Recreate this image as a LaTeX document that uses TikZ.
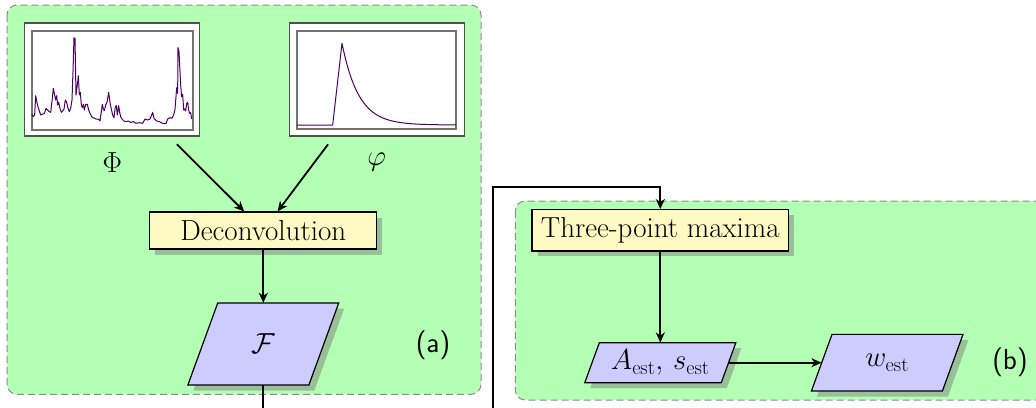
\RequirePackage{fix-cm}
\documentclass[tikz,border=0pt]{standalone}
\usetikzlibrary{arrows.meta,shadows,calc}
\definecolor{panelgreen}{RGB}{179,255,179}
\definecolor{boxyellow}{RGB}{255,250,196}
\definecolor{parablue}{RGB}{204,204,255}
\definecolor{curvecol}{RGB}{75,0,100}
\definecolor{framecol}{RGB}{80,80,80}
\definecolor{plotcol}{RGB}{115,115,115}
\definecolor{dashcol}{RGB}{140,140,140}
% name, x, y, width, height, text
\newcommand{\paranode}[6]{%
  \filldraw[parafill] ({#2-#4/2+0.182*#5},{#3-#5/2}) -- ({#2+#4/2+0.182*#5},{#3-#5/2})
     -- ({#2+#4/2-0.182*#5},{#3+#5/2}) -- ({#2-#4/2-0.182*#5},{#3+#5/2}) -- cycle;
  \node[paratext, minimum width=#4pt, minimum height=#5pt] (#1) at (#2,#3) {#6};}
\begin{document}
\begin{tikzpicture}[x=1pt,y=-1pt, font=\fontsize{29}{35}\selectfont,
  panel/.style={fill=panelgreen, draw=dashcol, dash pattern=on 7pt off 4pt, line width=1pt, rounded corners=10pt},
  procbox/.style={rectangle, draw=black, line width=1.2pt, fill=boxyellow,
     drop shadow={shadow xshift=5.5pt, shadow yshift=-5.5pt}, inner sep=0pt},
  parafill/.style={draw=black, line width=1.2pt, fill=parablue, line join=miter,
     drop shadow={shadow xshift=5.5pt, shadow yshift=-5.5pt}},
  paratext/.style={rectangle, inner sep=0pt},
  imgframe/.style={rectangle, draw=framecol, line width=1.6pt, fill=white,
     minimum width=175pt, minimum height=113pt, outer sep=8.6pt, inner sep=0pt},
  plotframe/.style={draw=plotcol, line width=1.8pt},
  curvestyle/.style={draw=curvecol, line width=1pt, line join=round},
  arr/.style={-{Stealth[length=10pt,width=9pt,inset=3pt]}, line width=1.8pt},
  sublabel/.style={font=\fontsize{29}{35}\selectfont\sffamily}]
\useasboundingbox (0,0) rectangle (1036,407);
% panels
\path[panel] (7,5) rectangle (481,394.3);
\path[panel] (515.3,201) rectangle (1080,400);
% image frames
\node[imgframe] (imPhi) at (111.8,79.2) {};
\node[imgframe] (imphi) at (376.8,79.2) {};
\draw[plotframe] (31.7,30.7) rectangle (192.7,130);
\draw[plotframe] (296.7,30.7) rectangle (456,129.3);
% Phi curve
\begin{scope}[shift={(20,15)}, scale=1/3]
\draw[curvestyle] (35,298) -- (40,305) -- (44,300) -- (47,242) -- (52,268) -- (57,285) -- (62,300) -- (68,297) -- (73,296) -- (78,280) -- (83,285) -- (88,290) -- (92,292) -- (97,250) -- (100,220) -- (104,240) -- (107,255) -- (110,242) -- (113,270) -- (116,262) -- (120,280) -- (124,292) -- (128,288) -- (132,282) -- (136,255) -- (140,262) -- (144,280) -- (148,290) -- (152,280) -- (156,255) -- (159,170) -- (162,68) -- (164,92) -- (165,70) -- (168,240) -- (172,210) -- (175,182) -- (178,240) -- (181,232) -- (184,270) -- (187,278) -- (190,268) -- (193,285) -- (197,268) -- (202,268) -- (206,285) -- (210,295) -- (215,305) -- (220,308) -- (228,312) -- (236,313) -- (240,318) -- (244,290) -- (247,268) -- (250,282) -- (253,287) -- (257,270) -- (261,262) -- (266,232) -- (270,262) -- (274,282) -- (278,300) -- (282,308) -- (286,275) -- (289,272) -- (292,300) -- (296,272) -- (299,292) -- (302,305) -- (306,312) -- (312,318) -- (318,320) -- (325,318) -- (332,322) -- (340,320) -- (348,325) -- (358,323) -- (368,325) -- (375,312) -- (382,315) -- (390,312) -- (395,300) -- (398,292) -- (402,310) -- (410,318) -- (418,320) -- (428,325) -- (438,326) -- (443,312) -- (450,308) -- (456,310) -- (461,300) -- (465,283) -- (468,245) -- (470,218) -- (473,235) -- (474,98) -- (477,110) -- (479,150) -- (482,210) -- (485,245) -- (488,238) -- (491,285) -- (494,282) -- (497,288) -- (500,265) -- (503,262) -- (506,285) -- (509,295) -- (512,293) -- (515,312);
\end{scope}
% phi curve
\begin{scope}[shift={(280,15)}, scale=1/3]
\draw[curvestyle] (50,330) -- (158,330) -- (186,85) -- plot[domain=186:528, samples=80] (\x,{330-245*exp(-(\x-186)/50)});
\end{scope}
% labels
\node (lPhi) at (112.3,162.7) {$\Phi$};
\node (lphi) at (376.7,162.3) {$\varphi$};
% process boxes
\node[procbox, minimum width=227pt, minimum height=37pt] (dec) at (263.3,230.5) {Deconvolution};
\node[procbox, minimum width=256.6pt, minimum height=41.3pt] (three) at (660.3,230.3) {Three-point maxima};
% data nodes
\paranode{F}{263.3}{344}{121}{82}{$\mathcal{F}$}
\paranode{A}{660.3}{362.7}{136.5}{40}{$A_{\mathrm{est}},\, s_{\mathrm{est}}$}
\paranode{w}{887.2}{362.7}{131}{56.7}{$w_{\mathrm{est}}$}
% panel labels
\node[sublabel] (la) at (433,345) {(a)};
\node[sublabel] (lb) at (1010,362.7) {(b)};
% connectors
\draw[arr] (imPhi) -- (dec);
\draw[arr] (imphi) -- (dec);
\draw[arr] (dec) -- (F);
\draw[arr] (three) -- (A);
\draw[arr] (A) -- (w);
\coordinate (low) at (493.3,425);
\coordinate (high) at (493.3,187);
\draw[arr] (F.south) |- (low) |- (high) -| (three.north);
\end{tikzpicture}
\end{document}
